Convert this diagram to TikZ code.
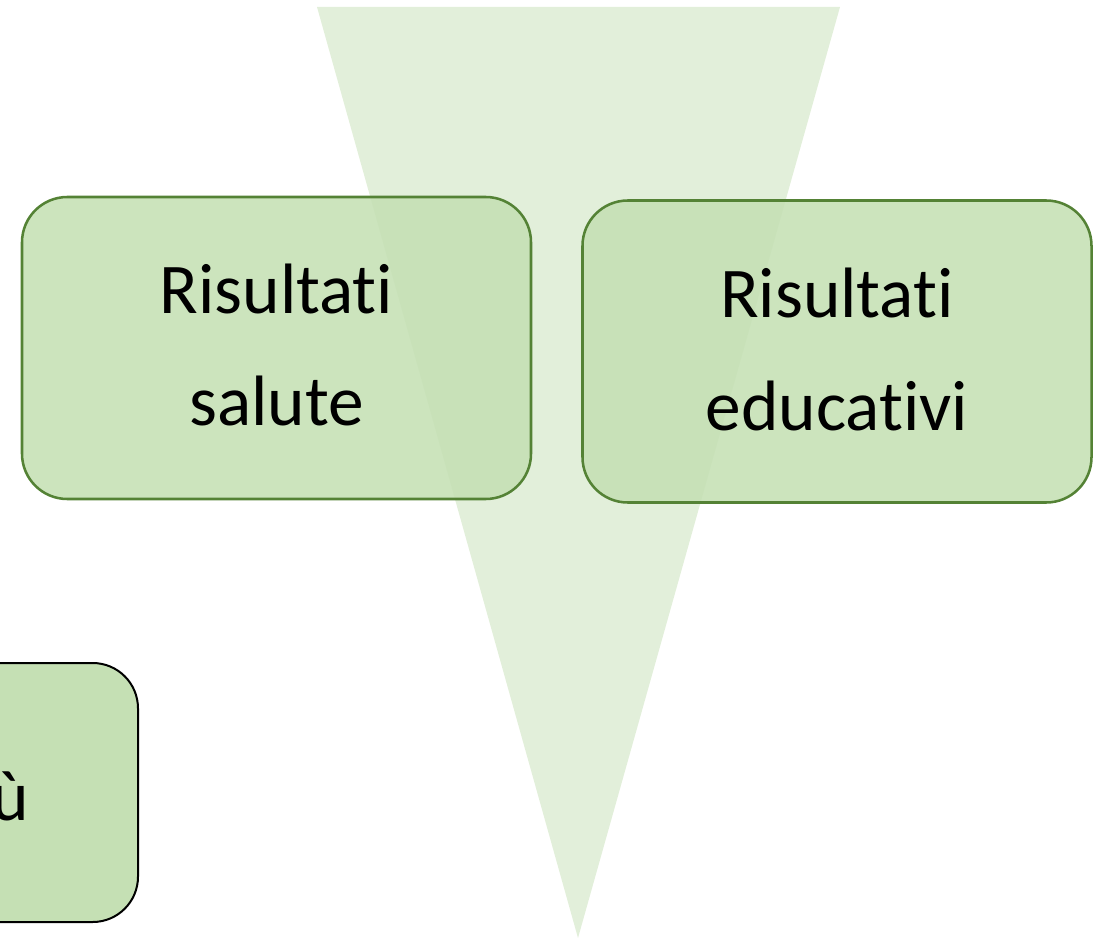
\documentclass[tikz,border=0pt]{standalone}
\usepackage{fontspec}
\setmainfont[Ligatures={NoCommon}]{Carlito}
\definecolor{tri}{HTML}{E2EFDA}
\definecolor{boxfill}{HTML}{C5E0B4}
\definecolor{boxline}{HTML}{548235}
\tikzset{
  greenbox/.style={draw=boxline, line width=1.9pt, fill=boxfill, fill opacity=0.88, text opacity=1,
    rounded corners=34pt, minimum width=381.75pt, minimum height=226.5pt, align=center,
    font=\fontsize{53.5}{84}\selectfont, inner sep=0pt},
  blackbox/.style={draw=black, line width=1.5pt, fill=boxfill, rounded corners=34pt},
  big/.style={font=\fontsize{53.5}{63}\selectfont, inner sep=0pt}
}
\begin{document}
\begin{tikzpicture}[x=0.75pt, y=-0.75pt]
\useasboundingbox (0,0) rectangle (1109,938);
\clip (0,0) rectangle (1109,938);
\fill[tri] (317,7) -- (840,7) -- (578,938) -- cycle;
\node[greenbox] (sal) at (276.5,348) {};
\node[big, anchor=base] (salt) at (276.5,313) {Risultati};
\node[big, anchor=base] (sals) at (276.5,425) {salute};
\node[greenbox] (edu) at (837,351.5) {};
\node[big, anchor=base] (edut) at (837,317) {Risultati};
\node[big, anchor=base] (edus) at (837,430) {educativi};
\draw[blackbox] (-200,663) rectangle (138,922);
\node[big, anchor=base east] (piu) at (29,820) {ù};
\end{tikzpicture}
\end{document}
